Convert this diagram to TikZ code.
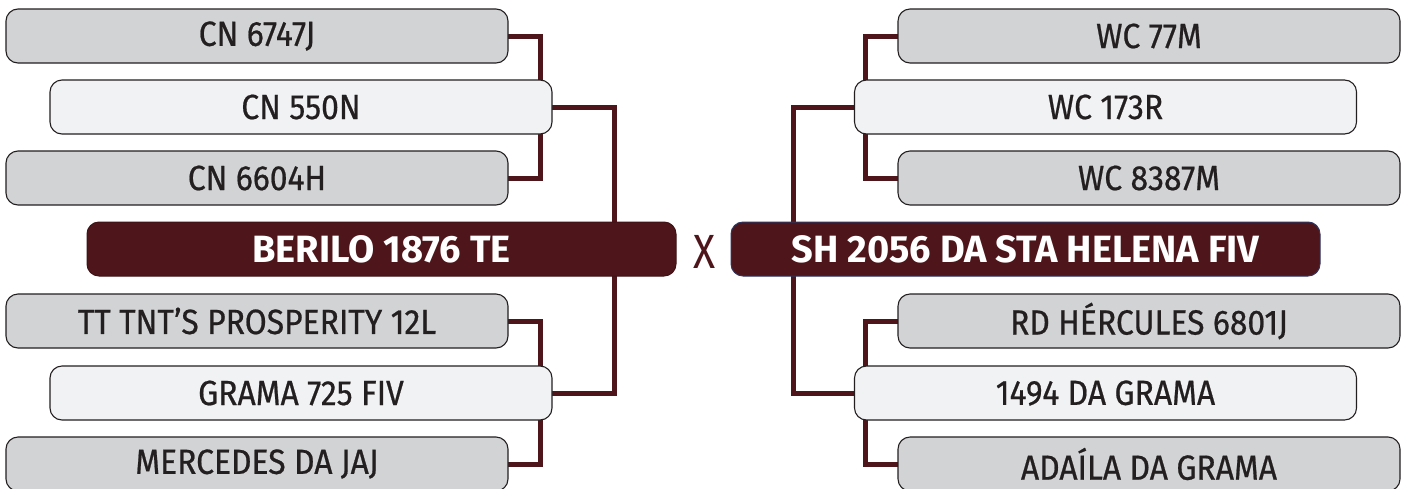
\documentclass[tikz,border=0pt]{standalone}
\usepackage{fontspec}
\setmainfont{Fira Sans}
\newfontfamily\labelfont{Fira Sans}[FakeStretch=0.91,FakeBold=0.6]
\newfontfamily\xfont{Fira Sans}[FakeStretch=0.85]
\usetikzlibrary{backgrounds,calc}
\definecolor{maroon}{HTML}{4E161B}
\definecolor{boxgray}{HTML}{D1D3D5}
\definecolor{boxlight}{HTML}{F1F2F4}
\definecolor{txt}{HTML}{231F20}
\definecolor{navyedge}{HTML}{2E3560}
\tikzset{
  entry/.style={draw=txt, line width=1.1pt, rounded corners=12pt, minimum width=502pt, minimum height=54pt, inner sep=0pt, text=txt, font=\labelfont\fontsize{35}{35}\selectfont},
  outer/.style={entry, fill=boxgray},
  inner/.style={entry, fill=boxlight},
  main/.style={fill=maroon, draw=maroon!80!black, line width=1pt, rounded corners=12pt, minimum width=589pt, minimum height=54pt, inner sep=0pt, text=white, font=\fontsize{38}{38}\bfseries\selectfont},
  conn/.style={draw=maroon, line width=5pt, line cap=rect},
}
\begin{document}
\begin{tikzpicture}[x=1pt,y=-1pt]
\useasboundingbox (0,0) rectangle (1407,488);
% left
\node[outer] (l1) at (257,36) {CN 6747J};
\node[inner] (l2) at (301,107) {CN 550N};
\node[outer] (l3) at (257,178) {CN 6604H};
\node[main]  (lm) at (381.5,249) {BERILO 1876 TE};
\node[outer] (l4) at (257,321) {TT TNT’S PROSPERITY 12L};
\node[inner] (l5) at (301,393) {GRAMA 725 FIV};
\node[outer] (l6) at (257,464) {MERCEDES DA JAJ};
% middle
\node[text=maroon, font=\xfont\fontsize{48}{48}\selectfont] (x) at (704.5,251.5) {X};
% right
\node[outer] (r1) at (1149,36) {WC 77M};
\node[inner] (r2) at (1105.5,107) {WC 173R};
\node[outer] (r3) at (1149,178) {WC 8387M};
\node[main, draw=navyedge]  (rm) at (1025.5,249) {SH 2056 DA STA HELENA FIV};
\node[outer] (r4) at (1149,321) {RD HÉRCULES 6801J};
\node[inner] (r5) at (1105.5,393) {1494 DA GRAMA};
\node[outer] (r6) at (1149,464) {ADAÍLA DA GRAMA};
\begin{scope}[on background layer]
\fill[white] (0,0) rectangle (1407,488);
\draw[conn] (l1.east) -- ++(32,0) |- (l3.east);
\draw[conn] (l4.east) -- ++(32,0) |- (l6.east);
\draw[conn] (l2.east) -| ([xshift=232.5pt]lm.north);
\draw[conn] (l5.east) -| ([xshift=232.5pt]lm.south);
\draw[conn] (r1.west) -- ++(-32,0) |- (r3.west);
\draw[conn] (r4.west) -- ++(-32,0) |- (r6.west);
\draw[conn] (r2.west) -| ([xshift=-232.5pt]rm.north);
\draw[conn] (r5.west) -| ([xshift=-232.5pt]rm.south);
\end{scope}
\end{tikzpicture}
\end{document}
